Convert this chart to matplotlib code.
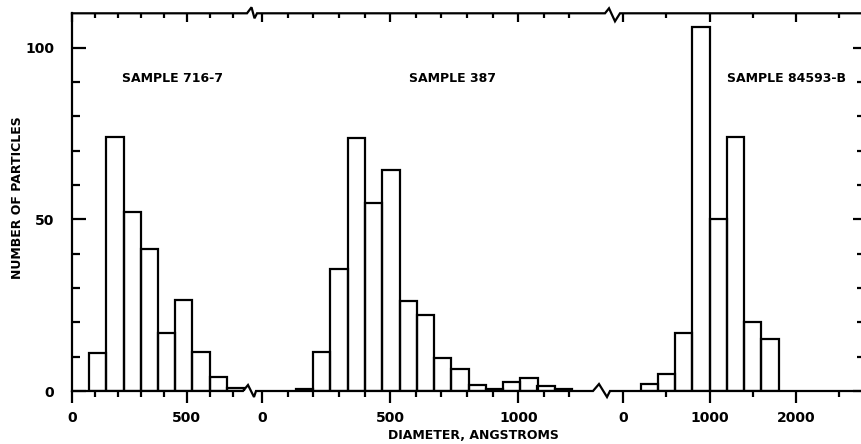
import matplotlib
matplotlib.use("Agg")
import matplotlib.pyplot as plt
from matplotlib.lines import Line2D
from matplotlib.ticker import FixedLocator, NullFormatter, FixedFormatter
from matplotlib.transforms import IdentityTransform
import numpy as np

# ---------------- data ----------------
s1_name = "SAMPLE 716-7"
s1_edges = [75, 150, 225, 300, 375, 450, 525, 600, 675, 750]
s1_counts = [11, 74, 52, 41.5, 17, 26.5, 11.5, 4, 1]

s2_name = "SAMPLE 387"
s2_edges = [132, 199, 266, 334, 401, 469, 536, 604, 671, 738, 806, 873, 941, 1008, 1075, 1143, 1210]
s2_counts = [0.6, 11.4, 35.4, 73.8, 54.7, 64.4, 26.2, 22.1, 9.5, 6.5, 1.8, 0.7, 2.5, 3.7, 1.4, 0.6]

s3_name = "SAMPLE 84593-B"
s3_edges = [200, 400, 600, 800, 1000, 1200, 1400, 1600, 1800]
s3_counts = [2, 5, 17, 106, 50, 74, 20, 15]

y_major = [0, 50, 100]
y_major_labels = ["0", "50", "100"]
y_minor = [10, 20, 30, 40, 60, 70, 80, 90]

x1_major = [0, 500]
x1_minor = [100, 200, 300, 400, 600, 700]
x2_major = [0, 500, 1000]
x2_minor = [100, 200, 300, 400, 600, 700, 800, 900, 1100, 1200]
x3_major = [0, 1000, 2000]
x3_minor = [500, 1500, 2500]

ylabel = "NUMBER OF PARTICLES"
xlabel = "DIAMETER, ANGSTROMS"

# ---------------- layout ----------------
W, H = 862, 444
fig = plt.figure(figsize=(W / 100, H / 100), dpi=100)
fig.patch.set_facecolor("white")

FONT = dict(family="DejaVu Sans", weight="bold", size=9)
LW = 1.6

base_y = 391.0   # image px of zero line
top_y = 13.3     # image px of top frame
ybot = (H - base_y) / H
yh = (base_y - top_y) / H

# px positions of segments
seg = [
    # left px, right px, px at zero, px per unit
    (72, 251, 72.0, 0.2293),
    (251, 601, 262.3, 0.256),
    (601, 864, 623.3, 0.0863),
]

axes = []
for (l, r, z, s) in seg:
    ax = fig.add_axes([l / W, ybot, (r - l) / W, yh])
    ax.set_xlim((l - z) / s, (r - z) / s)
    ax.set_ylim(0, 110)
    ax.patch.set_alpha(0)
    for sp in ax.spines.values():
        sp.set_visible(False)
    axes.append(ax)

ax1, ax2, ax3 = axes

def draw_hist(ax, edges, counts):
    edges = np.asarray(edges, float)
    ax.bar(edges[:-1], counts, width=np.diff(edges), align="edge",
           facecolor="none", edgecolor="black", linewidth=LW, zorder=3)

draw_hist(ax1, s1_edges, s1_counts)
draw_hist(ax2, s2_edges, s2_counts)
draw_hist(ax3, s3_edges, s3_counts)

# x ticks: bottom outward, top inward (via secondary axis)
for ax, mj, mn in [(ax1, x1_major, x1_minor), (ax2, x2_major, x2_minor), (ax3, x3_major, x3_minor)]:
    ax.xaxis.set_major_locator(FixedLocator(mj))
    ax.xaxis.set_minor_locator(FixedLocator(mn))
    ax.xaxis.set_major_formatter(FixedFormatter([str(v) for v in mj]))
    ax.xaxis.set_minor_formatter(NullFormatter())
    ax.tick_params(axis="x", which="major", direction="out", length=8.5, width=LW,
                   pad=6, labelsize=FONT["size"] + 1)
    ax.tick_params(axis="x", which="minor", direction="out", length=4.5, width=LW)
    for t in ax.get_xticklabels():
        t.set_fontweight("bold")
    top = ax.secondary_xaxis("top")
    top.xaxis.set_major_locator(FixedLocator(mj))
    top.xaxis.set_minor_locator(FixedLocator(mn))
    top.xaxis.set_major_formatter(NullFormatter())
    top.xaxis.set_minor_formatter(NullFormatter())
    top.spines["top"].set_visible(False)
    top.tick_params(axis="x", which="major", direction="in", length=6.5, width=LW)
    top.tick_params(axis="x", which="minor", direction="in", length=3.8, width=LW)

# y ticks
ax1.yaxis.set_major_locator(FixedLocator(y_major))
ax1.yaxis.set_minor_locator(FixedLocator(y_minor))
ax1.yaxis.set_major_formatter(FixedFormatter(y_major_labels))
ax1.tick_params(axis="y", which="major", direction="in", length=10, width=LW,
                pad=13, labelsize=FONT["size"] + 1)
ax1.tick_params(axis="y", which="minor", direction="in", length=6, width=LW)
for t in ax1.get_yticklabels():
    t.set_fontweight("bold")
ax1.spines["left"].set_visible(True)
ax1.spines["left"].set_linewidth(LW)

ax2.tick_params(axis="y", which="both", left=False, labelleft=False)
ax3.yaxis.set_major_locator(FixedLocator(y_major))
ax3.yaxis.set_minor_locator(FixedLocator(y_minor))
ax3.yaxis.tick_right()
ax3.tick_params(axis="y", which="major", direction="in", length=8, width=LW,
                labelright=False, left=False)
ax3.tick_params(axis="y", which="minor", direction="in", length=5, width=LW, left=False)

# ---------------- frame lines with break marks (display px) ----------------
yb = H - base_y
yt = H - top_y
bottom_pts = [(72, yb), (243, yb), (248, yb + 6), (254, yb - 6), (256, yb),
              (593, yb), (599, yb + 7), (607, yb - 6), (610, yb), (W + 5, yb)]
top_pts = [(72, yt), (247, yt), (251.5, yt + 6), (254.5, yt - 5), (257, yt),
           (605, yt), (609, yt + 5), (615, yt - 8), (620, yt), (W + 5, yt)]
for pts in (bottom_pts, top_pts):
    xs, ys = zip(*pts)
    fig.add_artist(Line2D(xs, ys, transform=IdentityTransform(), color="black",
                          linewidth=LW, solid_joinstyle="miter", zorder=5))

# ---------------- texts ----------------
ax1.text(438, 91, s1_name, ha="center", va="center", **FONT)
ax2.text(743, 91, s2_name, ha="center", va="center", **FONT)
ax3.text(1893, 91, s3_name, ha="center", va="center", **FONT)

fig.text(18 / W, 1 - 198 / H, ylabel, rotation=90, ha="center", va="center", **FONT)
fig.text(473 / W, 1 - 435 / H, xlabel, ha="center", va="center", **FONT)

fig.savefig("out.png", dpi=100, facecolor="white")
